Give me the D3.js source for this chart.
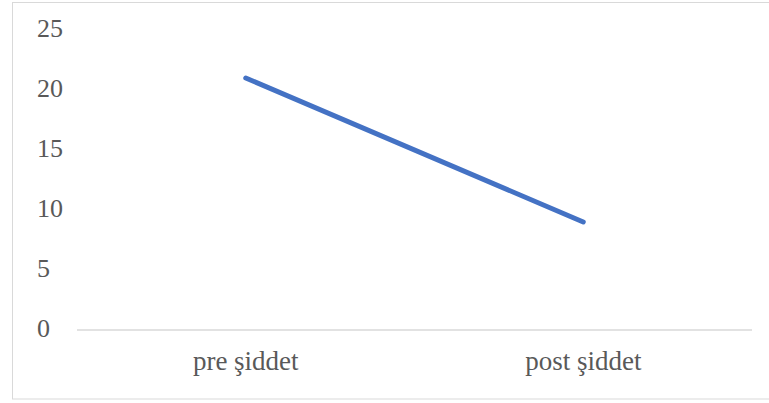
<!DOCTYPE html>
<html>
<head>
<meta charset="utf-8">
<script src="https://cdn.jsdelivr.net/npm/d3@7"></script>
<style>
  body { margin: 0; background: #fff; }
</style>
</head>
<body>
<svg id="chart"></svg>
<script>
// chart values
const categories = ['pre şiddet', 'post şiddet']
const values = [21, 9]
const yTicks = [0, 5, 10, 15, 20, 25]

const width = 769, height = 403
const plot = {left: 77, right: 752, top: 30, bottom: 330}
const font = "'Liberation Serif', 'Times New Roman', serif"

let svg = d3.select('#chart')
  .attr('width', width)
  .attr('height', height)

// outer frame (right side runs off the picture)
svg.append('rect')
  .attr('x', 12.5)
  .attr('y', 2.5)
  .attr('width', 758)
  .attr('height', 396.5)
  .attr('fill', 'none')
  .attr('stroke', '#d9d9d9')

let x = d3.scaleBand()
  .domain(categories)
  .range([plot.left, plot.right])

let y = d3.scaleLinear()
  .domain([0, 25])
  .range([plot.bottom, plot.top])

// y axis labels, left aligned, no line
let yAxis = svg.append('g')
  .attr('transform', 'translate(37,0)')
  .call(d3.axisLeft(y).tickValues(yTicks).tickSize(0).tickPadding(0))
yAxis.attr('font-family', null).attr('font-size', null)
yAxis.select('.domain').remove()
yAxis.selectAll('text')
  .attr('text-anchor', 'start')
  .attr('dy', '0.24em')
  .attr('fill', '#595959')
  .style('font-family', font)
  .style('font-size', '26px')

// baseline
svg.append('line')
  .attr('x1', plot.left)
  .attr('x2', plot.right)
  .attr('y1', y(0))
  .attr('y2', y(0))
  .attr('stroke', '#d9d9d9')
  .attr('stroke-width', 1.5)

// x axis labels
let xAxis = svg.append('g')
  .attr('transform', `translate(0,${y(0)})`)
  .call(d3.axisBottom(x).tickSize(0).tickPadding(21))
xAxis.attr('font-family', null).attr('font-size', null)
xAxis.select('.domain').remove()
xAxis.selectAll('text')
  .attr('fill', '#595959')
  .style('font-family', font)
  .style('font-size', '27px')

let line = d3.line()
  .x((d, i) => x(categories[i]) + x.bandwidth() / 2)
  .y((d) => y(d))

svg.append('path')
  .datum(values)
  .attr('d', line)
  .attr('fill', 'none')
  .attr('stroke', '#4472C4')
  .attr('stroke-width', 5)
  .attr('stroke-linecap', 'round')
</script>
</body>
</html>
